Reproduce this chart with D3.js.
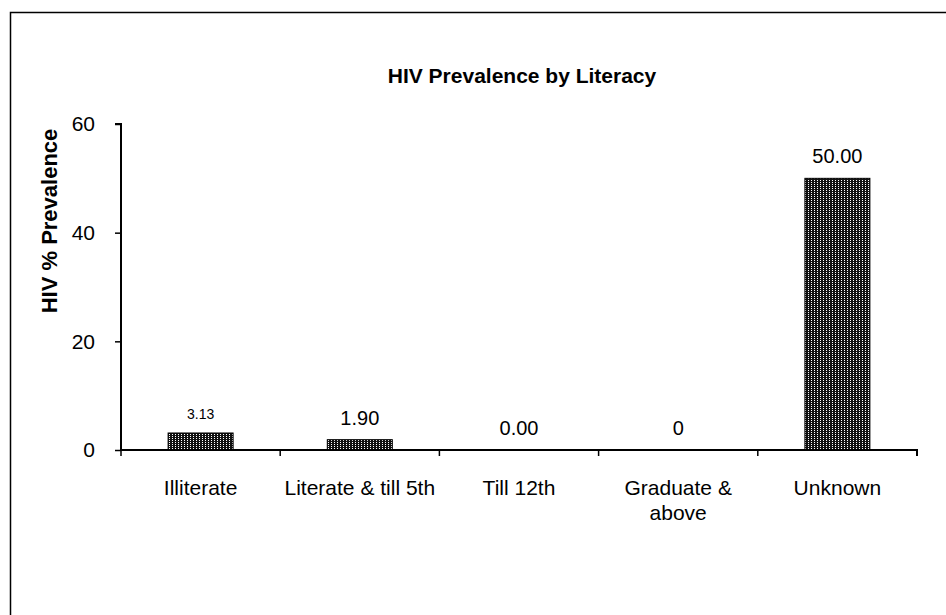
<!DOCTYPE html>
<html>
<head>
<meta charset="utf-8">
<script src="https://cdn.jsdelivr.net/npm/d3@7"></script>
<style>
  html, body { margin: 0; padding: 0; background: #fff; }
  svg { display: block; font-family: Arial, "Liberation Sans", sans-serif; }
</style>
</head>
<body>
<svg id="chart" width="946" height="615"></svg>
<script>
// Literacy groups and HIV prevalence (%)
const categories = ["Illiterate", "Literate & till 5th", "Till 12th", "Graduate & above", "Unknown"];
const categoryLines = [["Illiterate"], ["Literate & till 5th"], ["Till 12th"], ["Graduate &", "above"], ["Unknown"]];
const prevalence = [3.13, 1.90, 0.00, 0, 50.00];
const valueLabels = ["3.13", "1.90", "0.00", "0", "50.00"];
const yTicks = [0, 20, 40, 60];

const svg = d3.select("#chart");

// Outer chart frame (top and left edges visible in the window)
svg.append("rect")
  .attr("x", 10.5).attr("y", 12.5)
  .attr("width", 1000).attr("height", 1000)
  .attr("fill", "none").attr("stroke", "#000").attr("stroke-width", 1.5);

// Dotted fill for the bars
const defs = svg.append("defs");
const pat = defs.append("pattern")
  .attr("id", "dots").attr("patternUnits", "userSpaceOnUse")
  .attr("width", 3).attr("height", 2);
pat.append("rect").attr("width", 3).attr("height", 2).attr("fill", "#111");
pat.append("rect").attr("x", 1).attr("y", 0).attr("width", 1).attr("height", 1).attr("fill", "#fff");

const plotLeft = 121, plotRight = 917, plotTop = 124, plotBottom = 450;

const x = d3.scaleBand().domain(categories).range([plotLeft, plotRight]).paddingInner(0).paddingOuter(0);
const y = d3.scaleLinear().domain([0, 60]).range([plotBottom, plotTop]);

// Title
svg.append("text")
  .attr("x", 522).attr("y", 83)
  .attr("text-anchor", "middle")
  .attr("font-weight", "bold").attr("font-size", 21)
  .text("HIV Prevalence by Literacy");

// Y axis
const yAxis = svg.append("g")
  .attr("transform", `translate(${plotLeft},0)`)
  .call(d3.axisLeft(y).tickValues(yTicks).tickSize(6).tickPadding(20).tickFormat(d3.format("d")));
yAxis.select(".domain").attr("stroke-width", 2).attr("d", `M-6,${plotTop}H0V${plotBottom}`);
yAxis.selectAll(".tick line").attr("stroke-width", 1.5);
yAxis.selectAll(".tick text").attr("font-size", 21).attr("fill", "#000")
  .attr("font-family", "Arial, 'Liberation Sans', sans-serif");

// Y axis title
svg.append("text")
  .attr("transform", "translate(57,221) rotate(-90)")
  .attr("text-anchor", "middle")
  .attr("font-weight", "bold").attr("font-size", 22)
  .text("HIV % Prevalence");

// Bars
const barW = 65;
svg.selectAll("rect.bar")
  .data(prevalence)
  .join("rect")
  .attr("class", "bar")
  .attr("x", (d, i) => x(categories[i]) + x.bandwidth() / 2 - barW / 2)
  .attr("y", d => y(d))
  .attr("width", barW)
  .attr("height", d => plotBottom - y(d))
  .attr("fill", "url(#dots)")
  .attr("stroke", "#000").attr("stroke-width", d => d > 0 ? 1 : 0);

// X axis
const xAxis = svg.append("g")
  .attr("transform", `translate(0,${plotBottom})`)
  .call(d3.axisBottom(x).tickSize(6).tickFormat(""));
xAxis.select(".domain").attr("stroke-width", 2).attr("d", `M${plotLeft},0H${plotRight}V6`);
xAxis.selectAll(".tick line")
  .attr("transform", `translate(${-x.bandwidth() / 2},0)`)
  .attr("stroke-width", 1.5);

// Category labels
categoryLines.forEach((lines, i) => {
  const cx = x(categories[i]) + x.bandwidth() / 2;
  const t = svg.append("text")
    .attr("x", cx)
    .attr("y", 495)
    .attr("text-anchor", "middle")
    .attr("font-size", 21);
  lines.forEach((ln, j) => {
    t.append("tspan").attr("x", cx)
      .attr("dy", j === 0 ? 0 : 25).text(ln);
  });
});

// Value labels above bars
svg.selectAll("text.val")
  .data(prevalence)
  .join("text")
  .attr("class", "val")
  .attr("x", (d, i) => x(categories[i]) + x.bandwidth() / 2)
  .attr("y", (d, i) => y(d) - (i === 0 ? 14 : 15))
  .attr("text-anchor", "middle")
  .attr("font-size", (d, i) => i === 0 ? 14 : 20)
  .text((d, i) => valueLabels[i]);
</script>
</body>
</html>
